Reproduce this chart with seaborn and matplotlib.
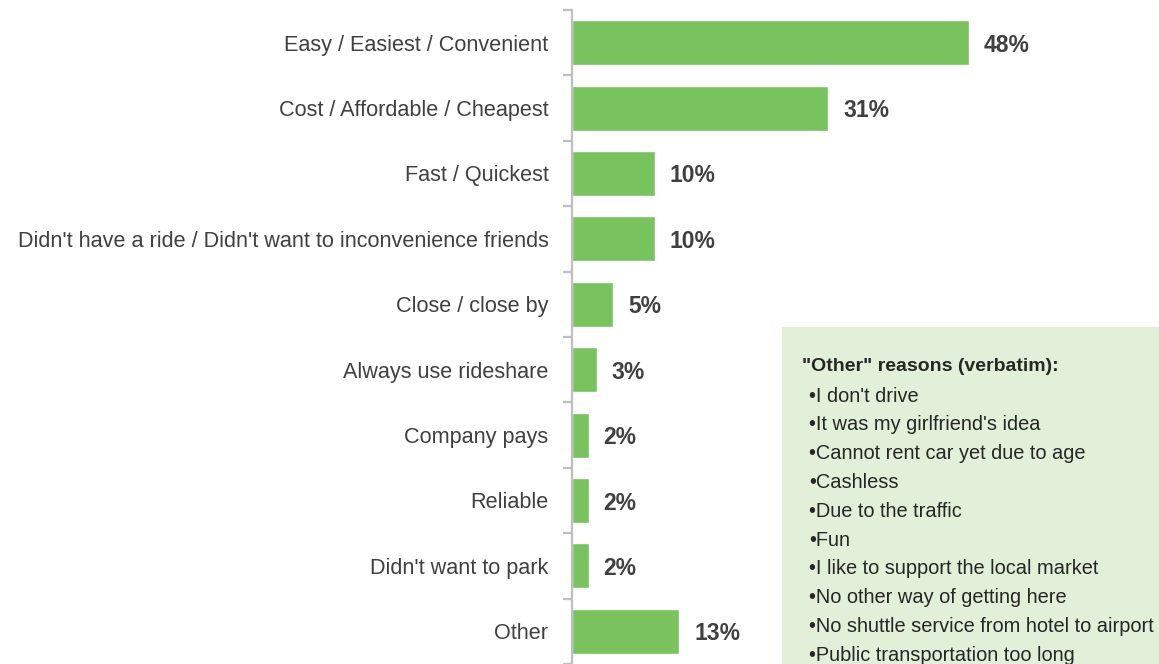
import matplotlib
matplotlib.use("Agg")
import matplotlib.pyplot as plt
from matplotlib.patches import Rectangle
from matplotlib.ticker import FixedLocator
import seaborn as sns
import pandas as pd
import numpy as np

reasons = [
    "Easy / Easiest / Convenient",
    "Cost / Affordable / Cheapest",
    "Fast / Quickest",
    "Didn't have a ride / Didn't want to inconvenience friends",
    "Close / close by",
    "Always use rideshare",
    "Company pays",
    "Reliable",
    "Didn't want to park",
    "Other",
]
shares = [48, 31, 10, 10, 5, 3, 2, 2, 2, 13]

other_title = "\"Other\" reasons (verbatim):"
other_items = [
    "I don't drive",
    "It was my girlfriend's idea",
    "Cannot rent car yet due to age",
    "Cashless",
    "Due to the traffic",
    "Fun",
    "I like to support the local market",
    "No other way of getting here",
    "No shuttle service from hotel to airport",
    "Public transportation too long",
]

sns.set_theme(style="white")
plt.rcParams["font.family"] = ["Liberation Sans", "DejaVu Sans"]

W, H = 1159, 664
fig = plt.figure(figsize=(W / 100, H / 100), dpi=100)
ax = fig.add_axes([572 / W, 0.0, 1 - 572 / W, 1 - 10 / H])

df = pd.DataFrame({"reason": reasons, "share": shares})
sns.barplot(data=df, x="share", y="reason", orient="h", color="#78C35E",
            saturation=1, width=0.69, ax=ax)

ax.set_xlim(0, 71.0)
ax.set_ylim(len(reasons) - 0.5, -0.5)
ax.set_xlabel("")
ax.set_ylabel("")
ax.set_xticks([])
for s in ("top", "right", "bottom"):
    ax.spines[s].set_visible(False)
ax.spines["left"].set_color("#BFBFBF")
ax.spines["left"].set_linewidth(1.6)

ax.tick_params(axis="y", which="major", length=0, pad=17,
               labelsize=15.6, labelcolor="#404040")
ax.yaxis.set_minor_locator(FixedLocator(np.arange(-0.5, len(reasons), 1.0)))
ax.tick_params(axis="y", which="minor", length=6.5, width=1.6,
               color="#BFBFBF", left=True)

for i, v in enumerate(shares):
    ax.text(v + 1.8, i, f"{v}%", va="center_baseline", ha="left",
            fontsize=16.5, fontweight="bold", color="#404040")

# Box listing verbatim "Other" responses
box_left, box_top = 782, 327
fig.add_artist(Rectangle((box_left / W, 0), 1 - box_left / W, 1 - box_top / H,
                         transform=fig.transFigure, facecolor="#E2F0D9",
                         edgecolor="none", zorder=5))
fig.text(802 / W, 1 - 364 / H, other_title, fontsize=14, fontweight="bold",
         color="#262626", va="center_baseline", ha="left", zorder=6)
line_step = 28.8
for k, item in enumerate(other_items):
    y = 1 - (394 + k * line_step) / H
    fig.text(809 / W, y, "\u2022" + item, fontsize=14.4, color="#262626",
             va="center_baseline", ha="left", zorder=6)

fig.savefig("out.png", dpi=100)
